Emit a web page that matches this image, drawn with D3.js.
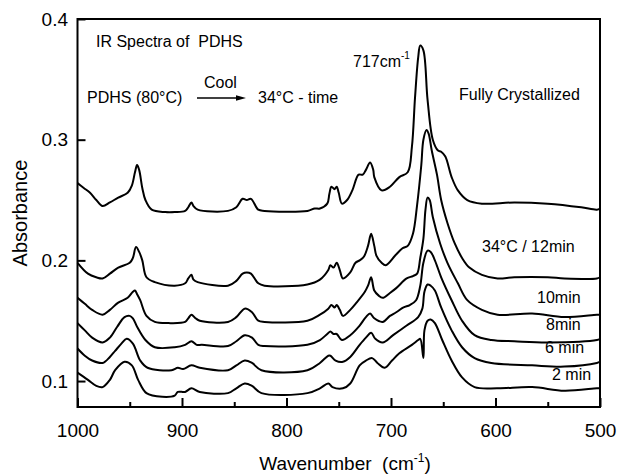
<!DOCTYPE html>
<html>
<head>
<meta charset="utf-8">
<script src="https://cdn.jsdelivr.net/npm/d3@7"></script>
<style>
  html, body { margin: 0; padding: 0; background: #fff; }
  svg text { font-family: "Liberation Sans", Arial, Helvetica, sans-serif; fill: #000; white-space: pre; }
</style>
</head>
<body>
<svg id="chart" width="617" height="476"></svg>
<script>
// ---- data (wavenumber cm^-1, absorbance) ----
const fullyCrystallized = [
  [1000,.264],[994,.260],[988,.256],[982,.250],[976,.245],[969,.248],[961,.252],[952,.256],
  [948,.262],[945,.273],[943,.279],[941,.275],[938,.260],[935,.250],[929,.242],[916,.240],
  [907,.240],[897,.241],[894,.244],[891,.248],[889,.245],[885,.242],[856,.241],[848,.244],
  [842,.251],[838,.250],[834,.251],[827,.242],[821,.241],[780,.241],[773,.243],[768,.243],
  [761,.247],[759,.255],[757,.261],[754,.259],[752,.261],[750,.256],[747,.247],[742,.250],
  [737,.258],[731,.271],[727,.271],[724,.275],[720,.281],[717,.275],[716,.269],[709,.258],
  [701,.261],[692,.269],[684,.273],[680,.294],[677,.335],[674,.368],[672,.378],[669,.374],
  [665,.333],[660,.300],[655,.291],[652,.290],[648,.286],[642,.269],[636,.258],[627,.250],
  [613,.247],[582,.248],[550,.247],[518,.244],[503,.242],[500,.243]
];
const min12 = [
  [1000,.198],[990,.189],[982,.186],[976,.185],[969,.189],[961,.194],[950,.198],[947,.202],
  [944,.211],[941,.207],[938,.200],[934,.186],[926,.182],[907,.179],[897,.181],[894,.185],
  [891,.188],[889,.184],[885,.182],[856,.179],[848,.183],[842,.189],[838,.190],[834,.189],
  [827,.181],[821,.179],[780,.180],[768,.184],[760,.192],[758,.196],[755,.194],[752,.198],
  [749,.192],[746,.185],[739,.190],[734,.198],[730,.200],[726,.203],[722,.212],[719,.222],
  [716,.212],[714,.204],[709,.198],[705,.196],[696,.204],[689,.210],[684,.212],[679,.222],
  [675,.246],[671,.279],[669,.300],[666,.308],[664,.305],[661,.291],[656,.271],[652,.250],
  [646,.231],[639,.214],[632,.202],[625,.194],[613,.188],[598,.185],[582,.186],[550,.186],
  [534,.185],[503,.185],[500,.186]
];
const min10 = [
  [1000,.169],[993,.164],[986,.159],[976,.155],[969,.159],[961,.165],[952,.169],[947,.174],
  [945,.175],[943,.172],[940,.167],[934,.154],[926,.149],[913,.148],[897,.149],[894,.152],
  [891,.155],[887,.152],[883,.150],[856,.149],[848,.153],[840,.160],[833,.157],[827,.150],
  [821,.149],[780,.150],[768,.155],[760,.160],[757,.163],[754,.161],[752,.163],[749,.159],
  [746,.154],[739,.159],[733,.165],[725,.174],[722,.179],[719,.186],[716,.175],[712,.171],
  [708,.169],[701,.173],[695,.177],[685,.185],[679,.187],[675,.189],[672,.202],[669,.218],
  [667,.242],[665,.252],[663,.250],[660,.236],[653,.214],[646,.198],[636,.181],[627,.167],
  [613,.159],[598,.155],[565,.156],[534,.153],[503,.155],[500,.155]
];
const min8 = [
  [1000,.148],[993,.142],[986,.136],[976,.132],[969,.136],[962,.145],[955,.153],[950,.154],
  [947,.152],[943,.145],[935,.134],[926,.128],[907,.128],[897,.130],[891,.133],[886,.130],
  [881,.130],[856,.129],[848,.133],[840,.138],[833,.136],[827,.130],[821,.129],[780,.130],
  [768,.134],[761,.139],[758,.141],[755,.139],[752,.139],[747,.134],[739,.138],[730,.146],
  [724,.153],[720,.156],[716,.152],[708,.149],[701,.154],[695,.157],[688,.161],[682,.163],
  [676,.167],[672,.179],[669,.198],[665,.208],[662,.207],[658,.200],[652,.186],[642,.167],
  [632,.150],[620,.138],[604,.134],[582,.133],[550,.132],[503,.134],[500,.135]
];
const min6 = [
  [1000,.127],[993,.121],[986,.117],[976,.115],[969,.120],[964,.125],[958,.131],[953,.135],
  [947,.131],[940,.117],[933,.111],[910,.109],[904,.111],[899,.110],[891,.113],[883,.111],
  [856,.109],[848,.113],[840,.117],[833,.115],[824,.109],[780,.109],[768,.115],[760,.121],
  [758,.121],[753,.117],[746,.116],[739,.120],[730,.130],[724,.136],[719,.140],[715,.135],
  [708,.132],[698,.138],[685,.146],[674,.153],[670,.160],[668,.174],[665,.180],[662,.179],
  [658,.175],[652,.161],[642,.142],[632,.128],[620,.119],[604,.115],[565,.113],[534,.112],
  [503,.115],[500,.116]
];
const min2 = [
  [1000,.107],[990,.101],[982,.096],[976,.095],[969,.101],[964,.109],[955,.116],[948,.113],
  [942,.101],[934,.090],[919,.087],[907,.088],[904,.091],[897,.091],[891,.094],[883,.091],
  [856,.090],[848,.094],[840,.098],[833,.096],[824,.090],[780,.090],[768,.094],[760,.098],
  [756,.095],[746,.094],[739,.098],[730,.113],[724,.117],[718,.119],[713,.115],[706,.111],
  [699,.117],[692,.123],[680,.130],[674,.134],[672,.135],[669,.119],[668,.142],[665,.150],
  [662,.151],[658,.148],[651,.134],[642,.117],[632,.103],[620,.095],[598,.094],[565,.095],
  [534,.092],[503,.094],[500,.094]
];
const seriesList = [fullyCrystallized, min12, min10, min8, min6, min2];
const xMajorTicks = [1000, 900, 800, 700, 600, 500];
const xMinorTicks = [950, 850, 750, 650, 550];
const yTicks = [0.1, 0.2, 0.3, 0.4];

// ---- drawing ----
const svg = d3.select("#chart");
const plotL = 77.5, plotR = 600, plotT = 19, plotB = 407;
const x = d3.scaleLinear().domain([1000, 500]).range([plotL, plotR]);
const y = d3.scaleLinear().domain([0.0785, 0.4]).range([plotB, plotT]);

const line = d3.line()
  .x(d => x(d[0])).y(d => y(d[1]))
  .curve(d3.curveCatmullRom.alpha(0.5));

svg.append("g").selectAll("path").data(seriesList).join("path")
  .attr("d", line)
  .attr("fill", "none")
  .attr("stroke", "#000")
  .attr("stroke-width", 2)
  .attr("stroke-linejoin", "round");

// axes
const xAxis = svg.append("g").attr("transform", `translate(0,${plotB})`)
  .call(d3.axisBottom(x).tickValues(xMajorTicks).tickSize(-9).tickPadding(16.5).tickFormat(d3.format("d")));
const xMinor = svg.append("g").attr("transform", `translate(0,${plotB})`)
  .call(d3.axisBottom(x).tickValues(xMinorTicks).tickSize(-5).tickFormat(""));
const yAxis = svg.append("g").attr("transform", `translate(${plotL},0)`)
  .call(d3.axisLeft(y).tickValues(yTicks).tickSize(-8).tickPadding(9.5).tickFormat(d3.format(".1f")));

[xAxis, xMinor, yAxis].forEach(g => {
  g.select(".domain").remove();
  g.selectAll(".tick line").attr("stroke", "#000").attr("stroke-width", 2);
  g.selectAll(".tick text").attr("font-size", 19).attr("font-family", "Liberation Sans, Arial, sans-serif");
});

// frame
svg.append("rect")
  .attr("x", plotL).attr("y", plotT)
  .attr("width", plotR - plotL).attr("height", plotB - plotT)
  .attr("fill", "none").attr("stroke", "#000").attr("stroke-width", 2);

// axis titles
const xt = svg.append("text").attr("x", 345).attr("y", 470)
  .attr("text-anchor", "middle").attr("font-size", 19);
xt.append("tspan").text("Wavenumber  (cm");
xt.append("tspan").attr("font-size", 12).attr("dy", -8).text("-1");
xt.append("tspan").attr("dy", 8).text(")");

svg.append("text")
  .attr("transform", "translate(27,213) rotate(-90)")
  .attr("text-anchor", "middle").attr("font-size", 20)
  .text("Absorbance");

// annotations
function label(tx, ty, s, size) {
  return svg.append("text").attr("x", tx).attr("y", ty).attr("font-size", size || 16).text(s);
}
label(96, 47, "IR Spectra of  PDHS");
label(87, 103, "PDHS (80°C)");
label(204, 88, "Cool");
svg.append("line").attr("x1", 197).attr("x2", 240).attr("y1", 98).attr("y2", 98)
  .attr("stroke", "#000").attr("stroke-width", 1.3);
svg.append("polygon").attr("points", "246,98 236,95.3 236,100.7").attr("fill", "#000");
label(258, 103, "34°C - time");

const pk = svg.append("text").attr("x", 353).attr("y", 67).attr("font-size", 16);
pk.append("tspan").text("717cm");
pk.append("tspan").attr("font-size", 10).attr("dy", -8).text("-1");

label(459, 100, "Fully Crystallized");
label(482, 252, "34°C / 12min");
label(537, 303, "10min");
label(546, 330, "8min");
label(545, 353, "6 min");
label(552, 380, "2 min");
</script>
</body>
</html>
